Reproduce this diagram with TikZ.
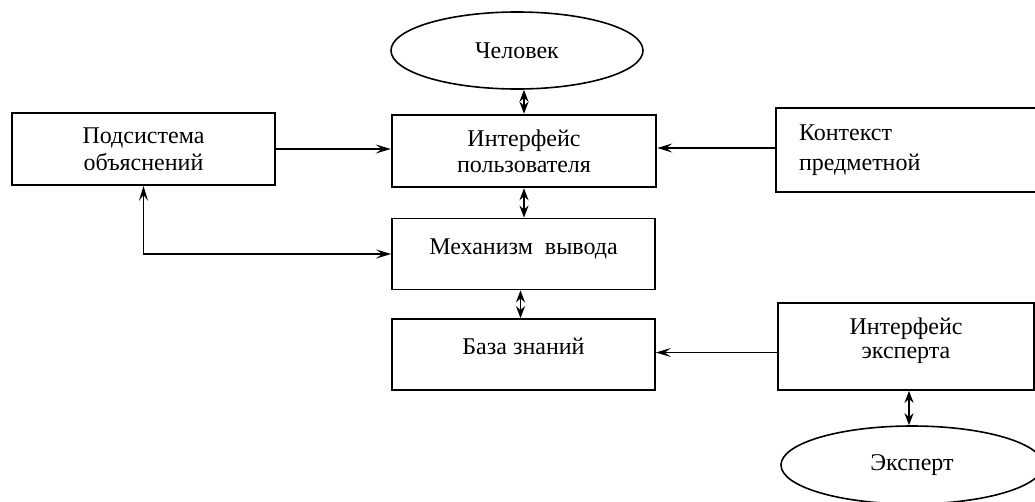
\documentclass[tikz,border=0pt]{standalone}
\usepackage{fontspec}
\setmainfont{Liberation Serif}
\usetikzlibrary{shapes.geometric,arrows.meta,calc}
\begin{document}
\begin{tikzpicture}[x=1pt,y=-1pt,
  every node/.style={font=\fontsize{24}{26}\selectfont},
  box/.style={draw,line width=1.7pt,rectangle,inner sep=0pt,align=center},
  boldbox/.style={box,line width=2.5pt},
  oval/.style={draw,line width=1.6pt,ellipse,inner sep=0pt},
  conn/.style={line width=1.8pt},
  harrow/.style={conn,-{Stealth[length=15pt,width=9pt,inset=6pt]}},
  dblarrow/.style={conn,{Stealth[length=12pt,width=9pt]}-{Stealth[length=12pt,width=9pt]}}
]
\useasboundingbox (0,0) rectangle (1035,501);
\clip (0,0) rectangle (1035,501);
\fill[white] (0,0) rectangle (1035,501);

\node[oval,minimum width=252pt,minimum height=77pt] (hum) at (517,50.5) {Человек};
\node[boldbox,minimum width=264pt,minimum height=72pt] (ui) at (524,151) {Интерфейс\\пользователя};
\node[box,minimum width=263pt,minimum height=71pt,text height=20pt,text depth=20pt] (mech) at (523.5,254) {Механизм\ \ вывода};
\node[box,minimum width=263pt,minimum height=71pt,text height=20pt,text depth=20pt] (kb) at (523.5,354.5) {База знаний};
\node[box,minimum width=263pt,minimum height=72pt,font=\fontsize{24}{27}\selectfont] (sub) at (143.5,149) {Подсистема\\объяснений};
\node[box,minimum width=270pt,minimum height=84pt,align=left,text width=224pt,inner xsep=23pt,font=\fontsize{24}{30}\selectfont] (ctx) at (911,150) {Контекст\\предметной};
\node[box,minimum width=256pt,minimum height=87pt,text depth=16pt,font=\fontsize{24}{24}\selectfont] (ei) at (906,346.5) {Интерфейс\\эксперта};
\node[oval,minimum width=262pt,minimum height=78pt] (exp) at (912,465) {Эксперт};

\draw[dblarrow] (ui.north |- hum.south) -- (ui.north);
\draw[dblarrow] (ui.south) -- (ui.south |- mech.north);
\draw[dblarrow] ($(mech.south)+(-3,0)$) -- ($(kb.north)+(-3,0)$);
\draw[dblarrow] ($(ei.south)+(3,0)$) -- ($(exp.north)+(-3,0)$);
\draw[harrow] (sub.east) -- (sub.east -| ui.west);
\draw[harrow] ($(ctx.west)+(0,-2)$) -- ($(ctx.west -| ui.east)+(0,-2)$);
\draw[harrow] ($(ei.west)+(0,6)$) -- ($(ei.west -| kb.east)+(0,6)$);
\draw[conn,{Stealth[length=15pt,width=9pt,inset=6pt]}-{Stealth[length=15pt,width=9pt,inset=6pt]}] (sub.south) |- (mech.west);
\end{tikzpicture}
\end{document}
